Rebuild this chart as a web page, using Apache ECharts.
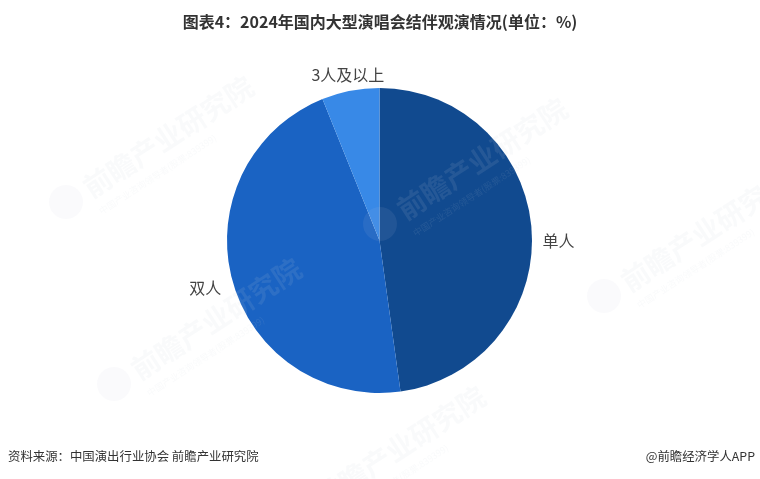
<!DOCTYPE html>
<html><head><meta charset="utf-8">
<script src="https://cdn.jsdelivr.net/npm/echarts@6/dist/echarts.min.js"></script>
<style>html,body{margin:0;padding:0;background:#fff}#c{width:760px;height:479px}</style>
</head><body><div id="c"></div>
<script>
const categories = ['单人', '双人', '3人及以上'];
const values = [47.8, 46.1, 6.1];
const colors = ['#114a8f', '#1a63c3', '#3889e7'];
const labelShift = [[0, 11], [0, 7], [40, -10]];

const wmStarts = [[86, 190], [400, 212], [624, 284], [134, 372], [318, 500]];
const wm = [];
wmStarts.forEach(p => {
  wm.push({type: 'circle', shape: {cx: p[0] - 20, cy: p[1] + 12, r: 17}, style: {fill: 'rgba(200,205,220,0.09)'}, z: 100, silent: true});
  wm.push({type: 'text', x: p[0], y: p[1], rotation: 33 * Math.PI / 180,
    style: {text: '前瞻产业研究院', fontSize: 28, fontWeight: 'bold', fill: 'rgba(200,205,220,0.11)', align: 'left', verticalAlign: 'middle', fontFamily: 'Noto Sans CJK SC'}, z: 100, silent: true});
  wm.push({type: 'text', x: p[0] + 14, y: p[1] + 22, rotation: 33 * Math.PI / 180,
    style: {text: '中国产业咨询领导者(股票:839399)', fontSize: 9, fill: 'rgba(200,205,220,0.11)', align: 'left', verticalAlign: 'middle', fontFamily: 'Noto Sans CJK SC'}, z: 100, silent: true});
});

const chart = echarts.init(document.getElementById('c'));
chart.setOption({
  animation: false,
  title: {
    text: '图表4：2024年国内大型演唱会结伴观演情况(单位：%)',
    left: 'center', top: 9,
    textStyle: {fontSize: 16, fontWeight: 'bold', color: '#333', fontFamily: 'Noto Sans CJK SC'}
  },
  graphic: [
    {type: 'text', left: 8, top: 450, style: {text: '资料来源：中国演出行业协会 前瞻产业研究院', fontSize: 12.4, fill: '#333', fontFamily: 'Noto Sans CJK SC'}},
    {type: 'text', right: 5, top: 450, style: {text: '@前瞻经济学人APP', fontSize: 12.4, fill: '#333', fontFamily: 'Noto Sans CJK SC'}}
  ].concat(wm),
  series: [{
    type: 'pie',
    center: [379.5, 240.5],
    radius: [0, 152.5],
    startAngle: 90,
    clockwise: true,
    data: categories.map((n, i) => ({name: n, value: values[i], itemStyle: {color: colors[i]}})),
    label: {show: true, position: 'outside', fontSize: 16, color: '#444', fontFamily: 'Noto Sans CJK SC'},
    labelLine: {show: false, length: 6, length2: 0},
    labelLayout: function (p) {
      const s = labelShift[p.dataIndex];
      return {dx: s[0], dy: s[1]};
    },
    emphasis: {disabled: true}
  }]
});
</script></body></html>
